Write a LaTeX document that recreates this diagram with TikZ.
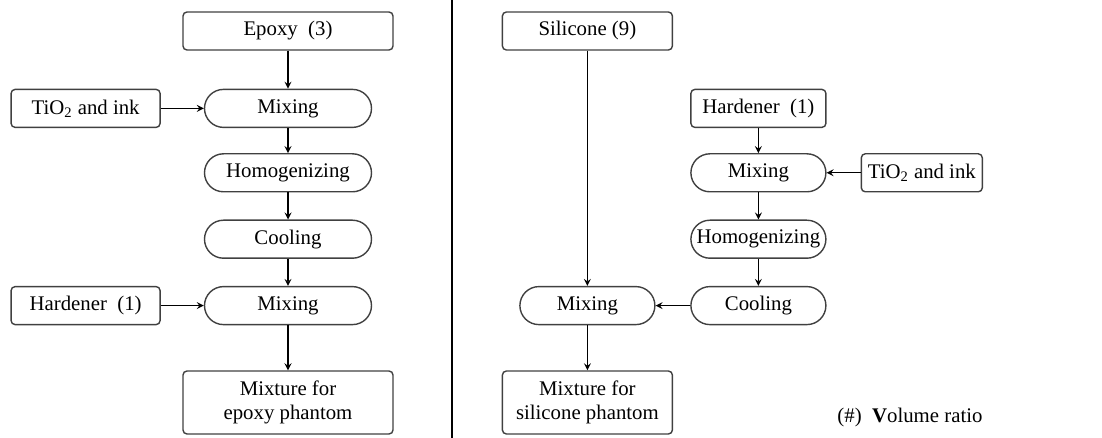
\documentclass[tikz,border=0pt]{standalone}
\usepackage{fontspec}
\setmainfont{Liberation Serif}
\usetikzlibrary{calc}
\usetikzlibrary{positioning}
\usetikzlibrary{arrows}

\begin{document}
\begin{tikzpicture}[->, >=stealth, shorten >= 0pt, draw=black, line width=0.55pt, node distance=14pt, font=\fontsize{10.4}{12}\selectfont]
    \tikzstyle{box}=[draw=black!75,rectangle,rounded corners=2pt,minimum height=19pt,inner sep=0pt,line width=0.7pt]
    \tikzstyle{stage}=[draw=black!75,rectangle,rounded corners=9.5pt,minimum height=19pt,inner sep=0pt,line width=0.7pt]

    \useasboundingbox (-144pt, 15.5pt) rectangle (407pt, -203.5pt);

    % epoxy
    \node[box, minimum width=105pt] (epoxy) at (0, 0) {Epoxy~ (3)};
    \node[stage, minimum width=83.5pt, below=19pt of epoxy] (mixA) {Mixing};
    \node[stage, minimum width=83.5pt, below=12.5pt of mixA] (homA) {Homogenizing};
    \node[stage, minimum width=83.5pt, below=13.5pt of homA] (coolA) {Cooling};
    \node[stage, minimum width=83.5pt, below=13.5pt of coolA] (mixB) {Mixing};
    \node[box, minimum width=105pt, minimum height=31.5pt, below=22.5pt of mixB, align=center] (mixtureA) {Mixture for\\epoxy phantom};
    \node[box, minimum width=74.5pt, left=21.5pt of mixA] (tioA) {TiO\textsubscript{2} and ink};
    \node[box, minimum width=74.5pt, left=21.5pt of mixB] (hardA) {Hardener~ (1)};

    % silicone
    \node[box, minimum width=85pt, right=54pt of epoxy] (silicone) {Silicone (9)};
    \node[box, minimum width=67.5pt, right=159pt of mixA] (hardS) {Hardener~ (1)};
    \node[stage, minimum width=67.5pt, below=12.5pt of hardS] (mixS) {Mixing};
    \node[stage, minimum width=67.5pt, below=13.5pt of mixS] (homS) {Homogenizing};
    \node[stage, minimum width=67.5pt, below=13.5pt of homS] (coolS) {Cooling};
    \node[box, minimum width=60.5pt, right=17pt of mixS] (tioS) {TiO\textsubscript{2} and ink};
    \node[stage, minimum width=67.5pt] (mixT) at (silicone |- coolS) {Mixing};
    \node[box, minimum width=85pt, minimum height=31.5pt, below=22.5pt of mixT, align=center] (mixtureS) {Mixture for\\silicone phantom};

    \node[anchor=east, inner sep=0pt] (ratio) at ($(tioS.east |- mixtureS.center)+(0,-7.5pt)$) {(\#)~ \textbf{V}olume ratio};

    \coordinate (top) at ($(epoxy.center)+(82pt,15.5pt)$);
    \coordinate (bot) at ($(top)+(0,-219pt)$);
    \draw[-, line width=0.7pt] (top) -- (bot);

    \path (epoxy) edge (mixA);
    \path (tioA) edge (mixA);
    \path (mixA) edge (homA);
    \path (homA) edge (coolA);
    \path (coolA) edge (mixB);
    \path (hardA) edge (mixB);
    \path (mixB) edge (mixtureA);

    \path (hardS) edge (mixS);
    \path (tioS) edge (mixS);
    \path (mixS) edge (homS);
    \path (homS) edge (coolS);
    \path (coolS) edge (mixT);
    \path (silicone) edge (mixT);
    \path (mixT) edge (mixtureS);

\end{tikzpicture}
\end{document}
